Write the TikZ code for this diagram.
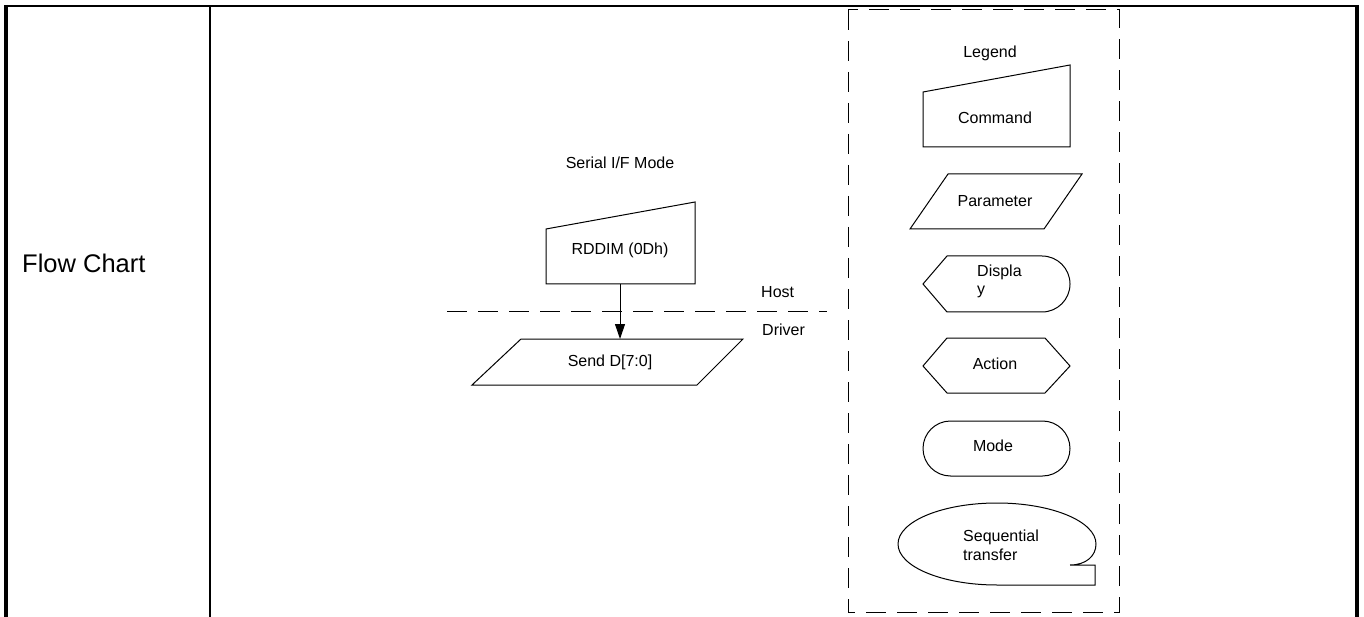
\documentclass[tikz,border=0pt]{standalone}
\usepackage{fontspec}
\setmainfont{Liberation Sans}
\usetikzlibrary{arrows.meta}
\begin{document}
\begin{tikzpicture}[>={Triangle[width=10pt,length=15pt]}, x=1pt, y=-1pt,
  txt/.style={font=\fontsize{16}{18}\selectfont, inner sep=0pt},
  shp/.style={draw, line width=1pt},
  dashline/.style={line width=1pt, dash pattern=on 20pt off 11pt}]
\useasboundingbox (0,0) rectangle (1364,617);
% frame of the table
\draw[line width=2pt] (4,6) -- (1359,6);
\draw[line width=4pt] (6,5) -- (6,617);
\draw[line width=2.5pt] (210,6) -- (210,617);
\draw[line width=4pt] (1357,5) -- (1357,617);
\node[font=\fontsize{25.5}{28}\selectfont, inner sep=0pt, anchor=west] (title) at (22,263) {Flow Chart};
% the flow
\node[txt] (mode) at (620,163) {Serial I/F Mode};
\draw[shp] (546,229) -- (695,202) -- (695,284) -- (546,284) -- cycle;
\node[txt] (rddim) at (620,250) {RDDIM (0Dh)};
\coordinate (rddimb) at (620,284);
\draw[dashline] (447,312) -- (827,312);
\node[txt, anchor=west] (host) at (761,292) {Host};
\node[txt, anchor=west] (driver) at (762,330) {Driver};
\draw[shp] (521,339) -- (743,339) -- (697,385) -- (472,385) -- cycle;
\node[txt] (send) at (610,362) {Send D[7:0]};
\coordinate (sendt) at (620,339);
\draw[->, line width=1pt] (rddimb) -- (sendt);
% legend
\draw[dashline] (848,10) rectangle (1119,612);
\node[txt] (legend) at (990,53) {Legend};
\draw[shp] (923,92) -- (1070,65) -- (1070,147) -- (923,147) -- cycle;
\node[txt] (command) at (995,118) {Command};
\draw[shp] (948,174) -- (1082,174) -- (1044,229) -- (910,229) -- cycle;
\node[txt] (param) at (995,201) {Parameter};
\draw[shp] (923,284) -- (947,256) -- (1042,256) arc[start angle=-90, end angle=90, radius=28] -- (947,312) -- cycle;
\node[txt, anchor=west, align=left] (display) at (977,281) {Displa\\y};
\draw[shp] (923,366) -- (947,338) -- (1045,338) -- (1070,366) -- (1045,393) -- (947,393) -- cycle;
\node[txt] (action) at (995,364) {Action};
\draw[shp] (950.5,421) -- (1042.5,421) arc[start angle=-90, end angle=90, radius=27.5] -- (950.5,476) arc[start angle=90, end angle=270, radius=27.5] -- cycle;
\node[txt] (modebox) at (993,446) {Mode};
\draw[shp] (1095,585) -- (997,585) arc[start angle=90, end angle=360, x radius=99, y radius=41]
  .. controls (1096,556) and (1086,565) .. (1070,565) -- (1095,565) -- cycle;
\node[txt, anchor=west, align=left, font=\fontsize{16}{19}\selectfont] (seq) at (963,545) {Sequential\\transfer};
\end{tikzpicture}
\end{document}
